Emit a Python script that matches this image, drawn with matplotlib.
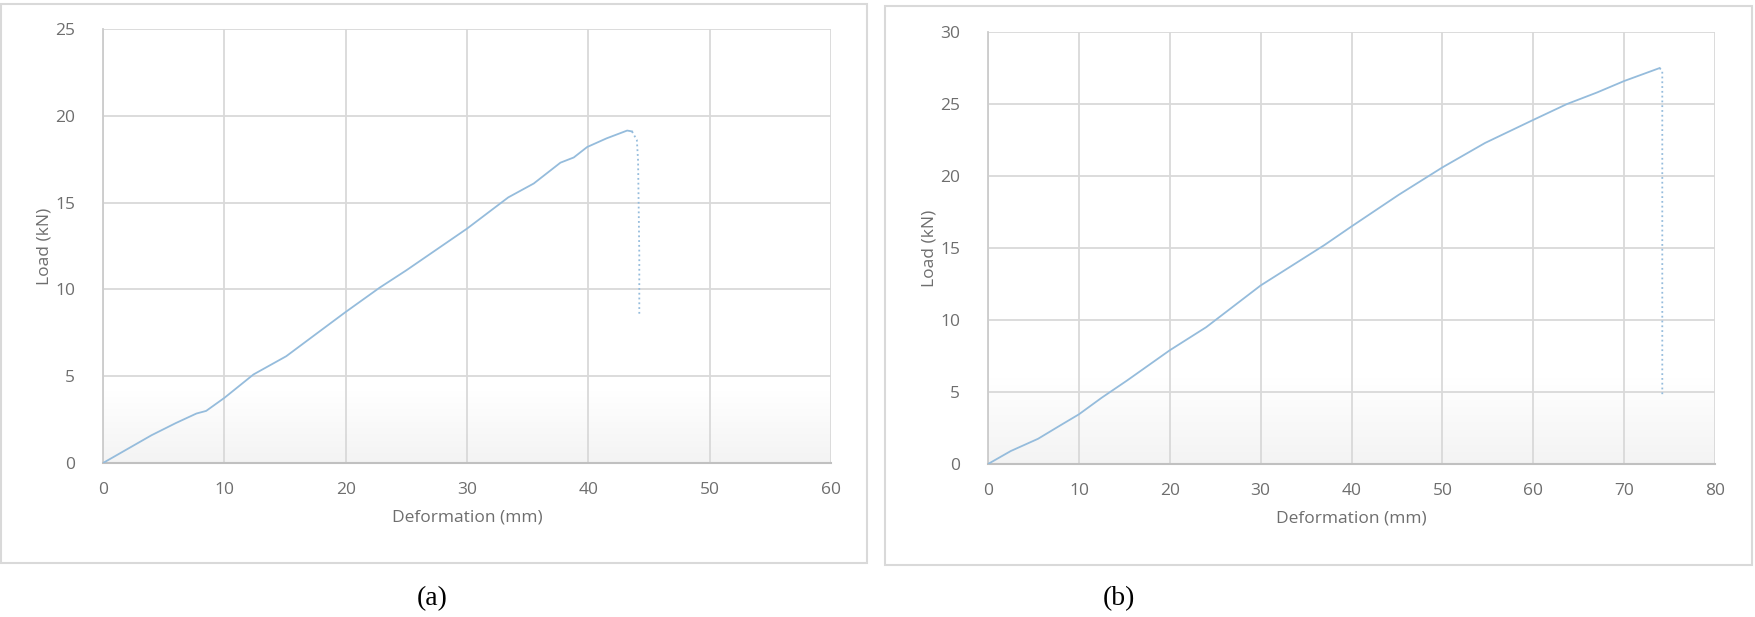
import numpy as np
import matplotlib.pyplot as plt
from matplotlib.patches import Rectangle

# panel (a): load-deformation readings
defo_a = [0, 2, 4, 6, 7.7, 8.5, 10, 12.4, 15.1, 17.5, 20, 22.8, 25, 27.5, 30, 33.4, 35.5, 37.7, 38.8, 39.9, 41.5, 43.2, 43.6]
load_a = [0, 0.8, 1.6, 2.3, 2.85, 3.0, 3.75, 5.1, 6.15, 7.4, 8.7, 10.1, 11.1, 12.3, 13.5, 15.3, 16.1, 17.3, 17.6, 18.2, 18.7, 19.15, 19.1]
drop_x_a = [43.6, 44.0, 44.1, 44.2, 44.2]
drop_y_a = [19.1, 18.6, 17.4, 12.0, 8.6]

# panel (b)
defo_b = [0, 2.5, 5.5, 8, 10, 12.5, 15.3, 20, 24, 30, 37, 40, 45.2, 50, 54.7, 60, 63.7, 67, 70, 73.9]
load_b = [0, 0.9, 1.75, 2.7, 3.45, 4.6, 5.8, 7.9, 9.5, 12.4, 15.2, 16.5, 18.7, 20.6, 22.3, 23.9, 25.0, 25.8, 26.6, 27.5]
drop_x_b = [73.9, 74.2, 74.2]
drop_y_b = [27.5, 27.3, 4.8]

xticks_a = [0, 10, 20, 30, 40, 50, 60]
yticks_a = [0, 5, 10, 15, 20, 25]
xticks_b = [0, 10, 20, 30, 40, 50, 60, 70, 80]
yticks_b = [0, 5, 10, 15, 20, 25, 30]

line_col = '#95bcdc'
grid_col = '#d9d9d9'
text_col = '#6e6e6e'
font = 'Open Sans'

fig = plt.figure(figsize=(17.55, 6.17), dpi=100)

# outer chart frames
fig.patches.append(Rectangle((0.0008, 0.0875), 0.4934, 0.906, transform=fig.transFigure,
                             facecolor='none', edgecolor=grid_col, lw=1.5))
fig.patches.append(Rectangle((0.5043, 0.0843), 0.494, 0.906, transform=fig.transFigure,
                             facecolor='none', edgecolor=grid_col, lw=1.5))

ax_a = fig.add_axes([0.0587, 0.2496, 0.4148, 0.7034])
ax_b = fig.add_axes([0.563, 0.248, 0.4142, 0.700])


def style(ax, xt, yt, shade_top):
    ax.set_xlim(xt[0], xt[-1])
    ax.set_ylim(yt[0], yt[-1])
    ax.set_xticks(xt)
    ax.set_yticks(yt)
    ax.grid(True, color=grid_col, lw=1.3)
    ax.set_axisbelow(True)
    ax.tick_params(length=0, labelsize=12.5, labelcolor=text_col, pad=20)
    ax.tick_params(axis='x', pad=14)
    for lab in ax.get_xticklabels() + ax.get_yticklabels():
        lab.set_fontfamily(font)
    for s in ['top', 'right']:
        ax.spines[s].set_visible(False)
    ax.spines['left'].set_color('#cccccc')
    ax.spines['bottom'].set_color('#c0c0c0')
    ax.spines['left'].set_linewidth(1.3)
    ax.spines['bottom'].set_linewidth(1.5)
    # faint grey fade near the bottom of the plot area
    g = np.linspace(0.955, 1.0, 64).reshape(-1, 1)
    ax.imshow(np.dstack([g, g, g]), extent=[xt[0], xt[-1], yt[0], shade_top],
              origin='lower', aspect='auto', zorder=0)
    ax.set_xlabel('Deformation (mm)', fontsize=12.5, color=text_col, family=font, labelpad=8)
    ax.set_ylabel('Load (kN)', fontsize=12.5, color=text_col, family=font, labelpad=2)


style(ax_a, xticks_a, yticks_a, 4.2)
style(ax_b, xticks_b, yticks_b, 6.0)

ax_a.plot(defo_a, load_a, color=line_col, lw=1.3, zorder=3)
ax_a.plot(drop_x_a, drop_y_a, color=line_col, lw=1.3, ls=':', zorder=3)
ax_b.plot(defo_b, load_b, color=line_col, lw=1.3, zorder=3)
ax_b.plot(drop_x_b, drop_y_b, color=line_col, lw=1.3, ls=':', zorder=3)

fig.text(0.246, 0.029, '(a)', fontsize=20, family='Liberation Serif', ha='center', va='center')
fig.text(0.6375, 0.029, '(b)', fontsize=20, family='Liberation Serif', ha='center', va='center')

fig.savefig('out.png', dpi=100)
